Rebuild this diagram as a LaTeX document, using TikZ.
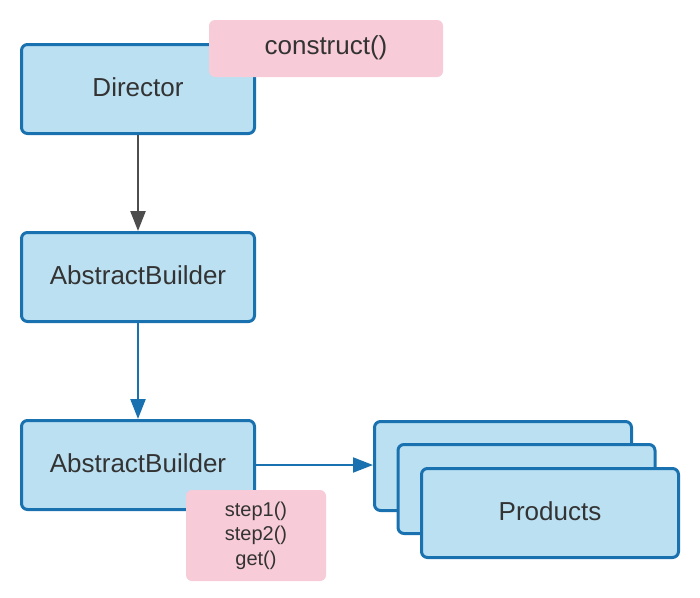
\documentclass[tikz,border=0pt]{standalone}
\usepackage{fontspec}
\setmainfont{Liberation Sans}
\usetikzlibrary{arrows.meta}
\definecolor{boxfill}{HTML}{BBE0F2}
\definecolor{boxline}{HTML}{1A71B0}
\definecolor{pinkfill}{HTML}{F7CBD8}
\definecolor{darkarrow}{HTML}{4D4D4D}
\definecolor{txt}{HTML}{333333}
\newcommand{\upby}[2]{\raisebox{#1}[\height][\depth]{#2}}
\tikzset{
  bluebox/.style={draw=boxline, fill=boxfill, line width=3pt, rounded corners=6pt,
    minimum width=233pt, minimum height=89pt, inner sep=0pt, text=txt,
    font=\fontsize{26}{31}\selectfont},
  prodbox/.style={bluebox, minimum width=257pt},
  note/.style={fill=pinkfill, rounded corners=6pt, inner sep=0pt, text=txt},
  conn/.style={line width=2.4pt, -{Triangle[length=20pt,width=15pt]}},
}
\begin{document}
\begin{tikzpicture}[x=1pt,y=-1pt]
\useasboundingbox (0,0) rectangle (700,597);
\node[bluebox] (director) at (138,89) {\upby{2pt}{Director}};
\node[note, minimum width=234pt, minimum height=57pt, font=\fontsize{26}{31}\selectfont] (construct) at (326,48.5) {\upby{1pt}{construct()}};
\node[bluebox] (ab1) at (138,277) {\upby{2pt}{AbstractBuilder}};
\node[bluebox] (ab2) at (138,465) {\upby{2pt}{AbstractBuilder}};
\node[note, minimum width=140pt, minimum height=91pt, align=center,
  font=\fontsize{20}{24.5}\selectfont] (steps) at (256,535.5) {step1()\\step2()\\get()};
\node[prodbox] (p1) at (503,466) {};
\node[prodbox] (p2) at (526.5,489) {};
\node[prodbox] (p3) at (550,513) {\upby{2pt}{Products}};
\draw[conn, draw=darkarrow, fill=darkarrow] (director) -- (ab1);
\draw[conn, draw=boxline, fill=boxline] (ab1) -- (ab2);
\draw[conn, line width=2pt, draw=boxline, fill=boxline] (ab2.east) -- (p1.west |- ab2.east);
\end{tikzpicture}
\end{document}
